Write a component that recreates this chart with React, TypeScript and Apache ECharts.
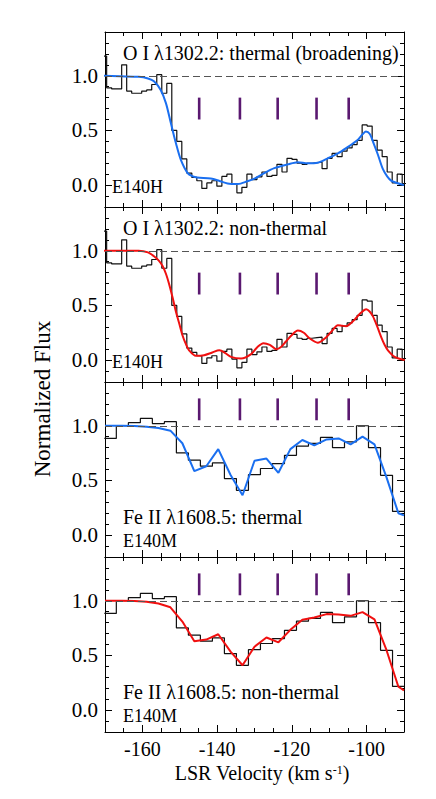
import React, { useEffect, useRef } from 'react';
import * as echarts from 'echarts';

// ---------- data ----------
const oiVelocityEdges = [-170.9, -169.56, -168.22, -166.88, -165.54, -164.2, -162.86, -161.52, -160.18, -158.84, -157.5, -156.15, -154.81, -153.47, -152.13, -150.79, -149.45, -148.11, -146.77, -145.43, -144.09, -142.75, -141.41, -140.07, -138.73, -137.39, -136.05, -134.71, -133.37, -132.03, -130.69, -129.35, -128.01, -126.67, -125.33, -123.99, -122.64, -121.3, -119.96, -118.62, -117.28, -115.94, -114.6, -113.26, -111.92, -110.58, -109.24, -107.9, -106.56, -105.22, -103.88, -102.54, -101.2, -99.86, -98.52, -97.18, -95.84, -94.5, -93.16, -91.82, -90.48, -89.14];
const oiFlux = [
  1.18, 0.89, 0.88, 0.88, 1.10, 0.86, 0.84, 0.84, 0.86, 0.87,
  0.92, 1.01, 0.84, 0.93, 0.50, 0.40, 0.24, 0.11, 0.07, 0.04,
  -0.03, 0.02, 0.04, -0.01, 0.08, 0.10, 0.01, -0.07, -0.02, 0.10,
  0.05, 0.076, 0.12, 0.08, 0.09, 0.19, 0.12, 0.245, 0.235, 0.20,
  0.19, 0.20, 0.205, 0.21, 0.15, 0.245, 0.29, 0.26, 0.31, 0.34,
  0.37, 0.41, 0.55, 0.54, 0.41, 0.32, 0.26, 0.12, 0.02, 0.10,
  0.015,
];
const oiThermalVelocity = [-171, -166, -161, -158.5, -156.9, -155.1, -153.7, -152.4, -151.0, -149.7, -147.9, -146.5, -145.3, -141.7, -139.5, -137.2, -134.5, -131.9, -130.0, -127.4, -124.7, -121.1, -118.4, -115.8, -113.1, -110.4, -107.7, -105.2, -102.5, -101.2, -100.2, -99.2, -98.1, -97.0, -95.7, -94.5, -93.4, -90];
const oiThermalFlux = [1.0, 0.995, 0.99, 0.975, 0.95, 0.87, 0.75, 0.57, 0.38, 0.23, 0.11, 0.08, 0.07, 0.06, 0.04, 0.015, 0.01, 0.035, 0.06, 0.11, 0.155, 0.19, 0.21, 0.20, 0.205, 0.245, 0.29, 0.345, 0.41, 0.46, 0.49, 0.47, 0.38, 0.28, 0.15, 0.08, 0.04, 0.0];
const oiNonThermalVelocity = [-171, -161, -158.5, -156.9, -155.6, -154.6, -153.7, -152.8, -151.9, -151.0, -150.1, -149.3, -148.4, -147.5, -145.7, -143.5, -141.3, -139.4, -137.8, -136.3, -133.6, -130.9, -129.2, -127.6, -125.9, -124.2, -122.9, -121.6, -120.0, -118.4, -116.8, -115.3, -113.1, -110.8, -109.2, -107.7, -106.6, -105.5, -104.3, -103.2, -101.6, -100.1, -99.2, -98.3, -97.2, -96.1, -95.2, -94.3, -92.5, -89.8];
const oiNonThermalFlux = [1.0, 1.0, 0.985, 0.95, 0.91, 0.86, 0.79, 0.69, 0.57, 0.44, 0.33, 0.23, 0.15, 0.09, 0.04, 0.045, 0.07, 0.09, 0.065, 0.03, 0.015, 0.055, 0.12, 0.155, 0.14, 0.10, 0.12, 0.17, 0.23, 0.27, 0.25, 0.20, 0.16, 0.21, 0.27, 0.32, 0.315, 0.31, 0.335, 0.37, 0.43, 0.465, 0.445, 0.40, 0.31, 0.21, 0.14, 0.09, 0.03, 0.0];

const feVelocityEdges = [-170.18, -166.97, -163.75, -160.54, -157.33, -154.11, -150.9, -147.69, -144.48, -141.26, -138.05, -134.84, -131.62, -128.41, -125.2, -121.98, -118.77, -115.56, -112.35, -109.13, -105.92, -102.71, -99.5, -96.28, -93.07, -89.86];
const feFlux = [0.884, 1.0, 1.028, 1.067, 1.02, 1.037, 0.752, 0.685, 0.63, 0.66, 0.517, 0.41, 0.553, 0.609, 0.654, 0.73, 0.813, 0.838, 0.893, 0.80, 0.853, 1.0, 0.80, 0.547, 0.217];
const feModelVelocity = [-170, -168.6, -165.4, -162.1, -158.9, -155.7, -152.5, -149.3, -146.1, -142.9, -139.7, -136.4, -133.2, -130.0, -126.8, -123.6, -120.4, -117.2, -114.0, -110.7, -107.5, -104.3, -101.1, -97.9, -94.7, -91.5, -90];
const feThermalFlux = [1.0, 1.0, 1.0, 0.997, 0.99, 0.98, 0.955, 0.84, 0.585, 0.63, 0.786, 0.55, 0.365, 0.68, 0.70, 0.57, 0.786, 0.87, 0.82, 0.875, 0.884, 0.83, 0.9, 0.83, 0.53, 0.20, 0.18];
const feNonThermalFlux = [1.0, 1.0, 1.0, 0.997, 0.99, 0.975, 0.94, 0.81, 0.63, 0.645, 0.694, 0.535, 0.41, 0.58, 0.664, 0.62, 0.734, 0.826, 0.847, 0.878, 0.875, 0.862, 0.896, 0.83, 0.55, 0.214, 0.18];

const componentVelocity = [-144.8, -133.9, -123.8, -113.4, -104.8];
const oiMarkerRange = [0.6, 0.8];
const feMarkerRange = [1.05, 1.25];

const panelTitles = [
  'O I λ1302.2: thermal (broadening)',
  'O I λ1302.2: non-thermal',
  'Fe II λ1608.5: thermal',
  'Fe II λ1608.5: non-thermal',
];
const panelInstruments = ['E140H', 'E140H', 'E140M', 'E140M'];
const xTickLabels = [-160, -140, -120, -100];
const yTickLabels = [0, 0.5, 1.0];
const continuumLevel = 1.0;

// ---------- layout / style ----------
const FONT = 'Liberation Serif';
const GRID_LEFT = 105;
const GRID_WIDTH = 299;
const GRID_H = 175;
const GRID_TOPS = [32, 207, 382, 557];
const X_MIN = -170, X_MAX = -90, Y_MIN = -0.2, Y_MAX = 1.4;
const BLUE = '#1a6ff0';
const RED = '#f01010';
const PURPLE = '#5a1870';

function buildOption() {
  const panels = [
    { edges: oiVelocityEdges, flux: oiFlux, mv: oiThermalVelocity, mf: oiThermalFlux, color: BLUE, smooth: 0.3, marker: oiMarkerRange, titleDy: 20.7, instDy: 155.2, instX: 112 },
    { edges: oiVelocityEdges, flux: oiFlux, mv: oiNonThermalVelocity, mf: oiNonThermalFlux, color: RED, smooth: 0.3, marker: oiMarkerRange, titleDy: 20.7, instDy: 155.2, instX: 112 },
    { edges: feVelocityEdges, flux: feFlux, mv: feModelVelocity, mf: feThermalFlux, color: BLUE, smooth: false, marker: feMarkerRange, titleDy: 135.4, instDy: 158.6, instX: 123 },
    { edges: feVelocityEdges, flux: feFlux, mv: feModelVelocity, mf: feNonThermalFlux, color: RED, smooth: false, marker: feMarkerRange, titleDy: 135.4, instDy: 158.6, instX: 123 },
  ];

  const grid: any[] = [];
  const xAxis: any[] = [];
  const yAxis: any[] = [];
  const series: any[] = [];
  const graphic: any[] = [];
  const blackLine = { color: '#000', width: 1 };

  panels.forEach((p, i) => {
    grid.push({ left: GRID_LEFT, top: GRID_TOPS[i], width: GRID_WIDTH, height: GRID_H });
    const xc = { gridIndex: i, type: 'value', min: X_MIN, max: X_MAX, interval: 5, splitLine: { show: false } };
    ['bottom', 'top'].forEach((pos) => {
      xAxis.push({
        ...xc, position: pos,
        axisLine: { show: true, onZero: false, lineStyle: blackLine },
        axisTick: { show: true, inside: true, length: 4, lineStyle: blackLine },
        axisLabel: { show: false },
      });
      xAxis.push({
        ...xc, position: pos,
        axisLine: { show: false, onZero: false },
        axisTick: { show: true, inside: true, length: 7, customValues: xTickLabels, lineStyle: blackLine },
        axisLabel: {
          show: i === 3 && pos === 'bottom', customValues: xTickLabels,
          formatter: (v: number) => String(v), fontSize: 20, fontFamily: FONT, color: '#000', margin: 9, lineHeight: 16,
        },
      });
    });
    const yc = { gridIndex: i, type: 'value', min: Y_MIN, max: Y_MAX, interval: 0.1, splitLine: { show: false } };
    ['left', 'right'].forEach((pos) => {
      yAxis.push({
        ...yc, position: pos,
        axisLine: { show: true, onZero: false, lineStyle: blackLine },
        axisTick: { show: true, inside: true, length: 4, lineStyle: blackLine },
        axisLabel: { show: false },
      });
      yAxis.push({
        ...yc, position: pos,
        axisLine: { show: false, onZero: false },
        axisTick: { show: true, inside: true, length: 7, customValues: yTickLabels, lineStyle: blackLine },
        axisLabel: {
          show: pos === 'left', customValues: yTickLabels,
          formatter: (v: number) => v.toFixed(1), fontSize: 21, fontFamily: FONT, color: '#000', margin: 7,
        },
      });
    });

    const ax = 4 * i;
    series.push({
      type: 'line', xAxisIndex: ax, yAxisIndex: ax, step: 'end', showSymbol: false, symbol: 'none',
      data: p.edges.map((e, k) => [e, p.flux[Math.min(k, p.flux.length - 1)]]),
      lineStyle: { color: '#111', width: 1.2 }, z: 2,
      markLine: {
        silent: true, symbol: ['none', 'none'], label: { show: false },
        lineStyle: { color: '#555', width: 1, type: [7, 4] },
        data: [{ yAxis: continuumLevel }],
      },
    });
    series.push({
      type: 'line', xAxisIndex: ax, yAxisIndex: ax, showSymbol: false, symbol: 'none', smooth: p.smooth,
      data: p.mv.map((v, k) => [v, p.mf[k]]),
      lineStyle: { color: p.color, width: 2 }, z: 3,
    });
    series.push({
      type: 'custom', coordinateSystem: 'cartesian2d', xAxisIndex: ax, yAxisIndex: ax, z: 4,
      data: componentVelocity.map((v) => [v, p.marker[0], p.marker[1]]),
      renderItem: (params: any, api: any) => {
        const a = api.coord([api.value(0), api.value(1)]);
        const b = api.coord([api.value(0), api.value(2)]);
        return { type: 'line', shape: { x1: a[0], y1: a[1], x2: b[0], y2: b[1] }, style: { stroke: PURPLE, lineWidth: 2.6 } };
      },
    });

    graphic.push({
      type: 'text', x: 123, y: GRID_TOPS[i] + p.titleDy,
      style: { text: panelTitles[i], fontSize: 20, fontFamily: FONT, fill: '#000', align: 'left', verticalAlign: 'middle' },
    });
    graphic.push({
      type: 'text', x: p.instX, y: GRID_TOPS[i] + p.instDy,
      style: { text: panelInstruments[i], fontSize: 18, fontFamily: FONT, fill: '#000', align: 'left', verticalAlign: 'middle' },
    });
  });

  graphic.push({
    type: 'text', x: 42, y: 399, rotation: Math.PI / 2,
    style: { text: 'Normalized Flux', fontSize: 23, fontFamily: FONT, fill: '#000', align: 'center', verticalAlign: 'middle' },
  });
  graphic.push({
    type: 'text', x: 262, y: 773,
    style: {
      text: 'LSR Velocity (km s{sup|-1})', fontSize: 20, fontFamily: FONT, fill: '#000', lineHeight: 18,
      align: 'center', verticalAlign: 'middle',
      rich: { sup: { fontSize: 12, fontFamily: FONT, fill: '#000', verticalAlign: 'top', lineHeight: 18 } },
    },
  });

  return { animation: false, backgroundColor: '#fff', textStyle: { fontFamily: FONT }, grid, xAxis, yAxis, series, graphic };
}

export default function App() {
  const ref = useRef<HTMLDivElement>(null);
  useEffect(() => {
    const chart = echarts.init(ref.current!, null, { renderer: 'svg' });
    chart.setOption(buildOption() as any);
    return () => chart.dispose();
  }, []);
  return <div ref={ref} style={{ position: 'absolute', left: 0, top: 0, width: 436, height: 799 }} />;
}
